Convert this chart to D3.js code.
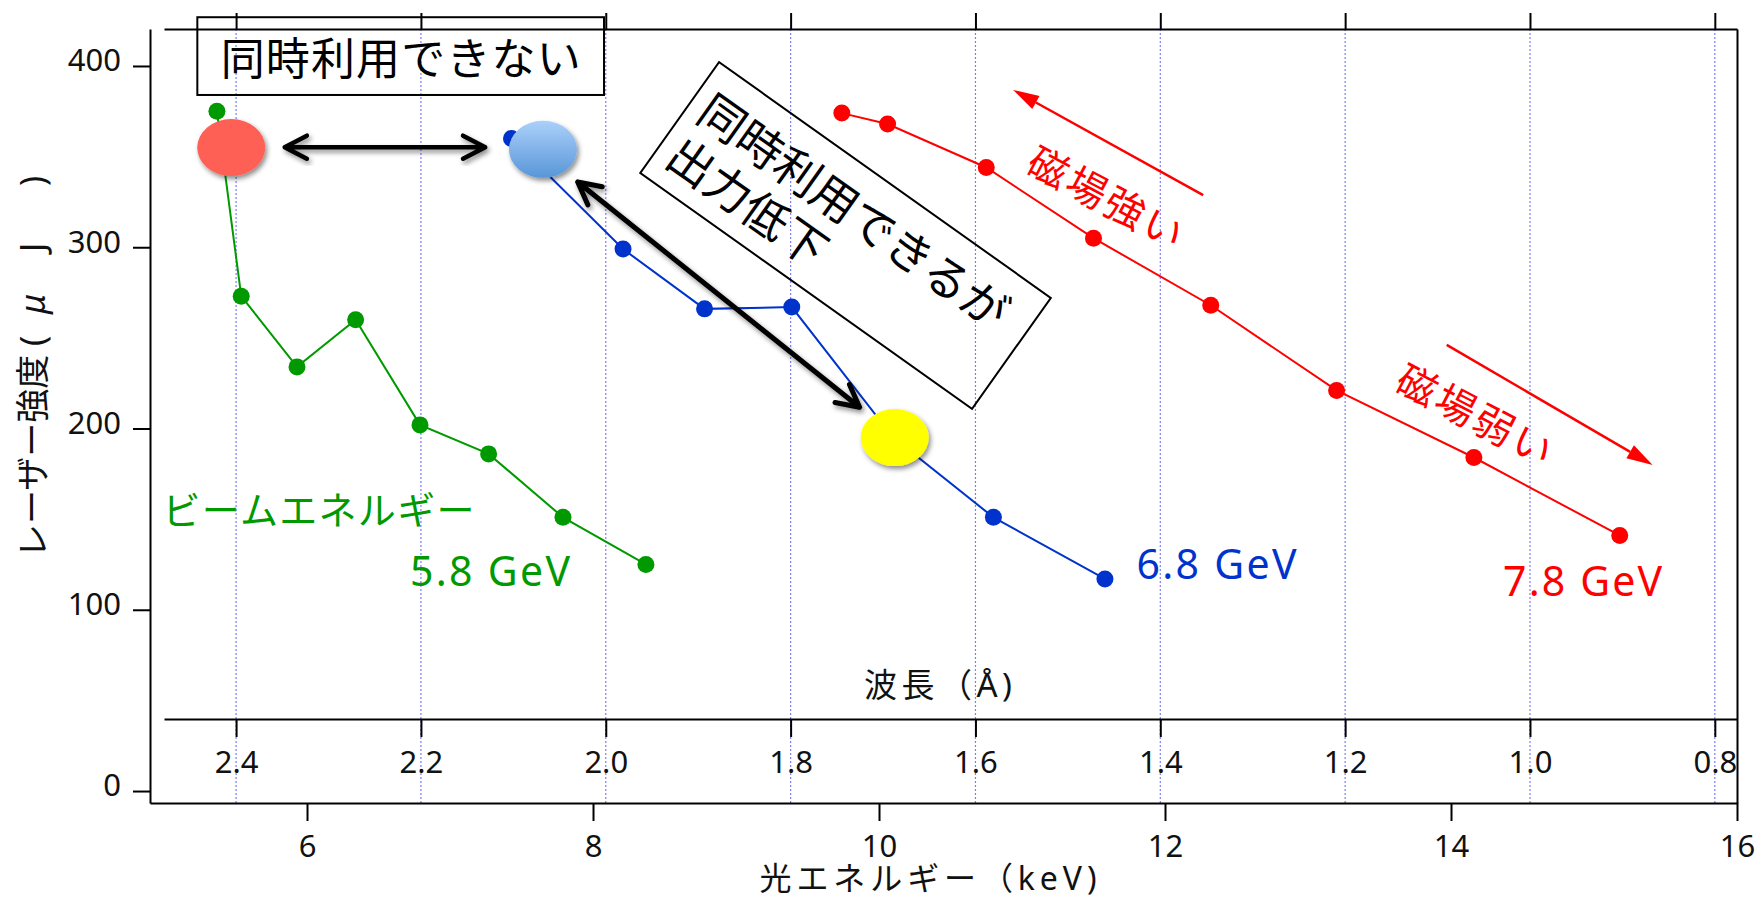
<!DOCTYPE html>
<html>
<head>
<meta charset="utf-8">
<script src="https://cdn.jsdelivr.net/npm/d3@7"></script>
<style>
  body { margin: 0; background: #fff; }
  svg { display: block; font-family: "Noto Sans", "Noto Sans CJK JP", sans-serif; }
</style>
</head>
<body>
<div id="chart"></div>
<script>
// datos: energia del foton (keV) y energia del pulso laser (uJ)
var energy58 = [5.37, 5.54, 5.93, 6.34, 6.79, 7.27, 7.79, 8.37];
var power58 = [375, 273, 234, 260, 202, 186, 151, 125];
var energy68 = [7.43, 8.21, 8.78, 9.39, 10.10, 10.80, 11.58];
var power68 = [360, 299, 266, 267, 195, 151, 117];
var energy78 = [9.74, 10.06, 10.75, 11.50, 12.32, 13.20, 14.16, 15.18];
var power78 = [374, 368, 344, 305, 268, 221, 184, 141];

var seriesNames = ["5.8 GeV", "6.8 GeV", "7.8 GeV"];
var seriesColors = ["#009a00", "#0033cc", "#ff0000"];

// ticks
var energyTicks = [6, 8, 10, 12, 14, 16];
var powerTicks = [0, 100, 200, 300, 400];
var waveTicks = [2.4, 2.2, 2.0, 1.8, 1.6, 1.4, 1.2, 1.0, 0.8];

// puntos destacados (keV, uJ)
var highlightE = [5.47, 7.65, 10.11];
var highlightP = [355, 354, 195];
var highlightFill = ["#fe6055", "url(#blueGrad)", "#ffff00"];

var chartWidth = 1763;
var chartHeight = 898;

var svg = d3.select("#chart").append("svg")
  .attr("width", chartWidth)
  .attr("height", chartHeight);

var defs = svg.append("defs");
var shadow = defs.append("filter").attr("id", "shadow")
  .attr("x", "-30%").attr("y", "-30%").attr("width", "160%").attr("height", "160%");
shadow.append("feDropShadow").attr("dx", 2).attr("dy", 3).attr("stdDeviation", 2.5)
  .attr("flood-color", "#000").attr("flood-opacity", 0.45);
var grad = defs.append("linearGradient").attr("id", "blueGrad")
  .attr("x1", 0).attr("y1", 0).attr("x2", 0).attr("y2", 1);
grad.append("stop").attr("offset", "0%").attr("stop-color", "#abd0fa");
grad.append("stop").attr("offset", "100%").attr("stop-color", "#5896d8");

// escalas
var x = d3.scaleLinear().domain([4.902, 16]).range([150, 1737]);
var y = d3.scaleLinear().domain([-6.6, 420.4]).range([803, 29]);
var wl = d3.scaleLinear().domain([2.478, 0.776]).range([164, 1737]);

function styleAxis(g) {
  g.attr("font-size", null).attr("font-family", null);
  g.selectAll("path.domain").attr("stroke", "#000").attr("stroke-width", 2);
  g.selectAll(".tick line").attr("stroke", "#000").attr("stroke-width", 2);
  g.selectAll(".tick text").attr("fill", "#111").style("font-size", "31px");
}

// grilla punteada (longitud de onda)
svg.append("g").selectAll("line").data(waveTicks).enter().append("line")
  .attr("x1", function (d) { return wl(d); })
  .attr("x2", function (d) { return wl(d); })
  .attr("y1", 29).attr("y2", 803)
  .attr("stroke", "#7d7dff").attr("stroke-width", 1.2).attr("stroke-dasharray", "2,2");

// eje x energia
svg.append("g").attr("transform", "translate(0,803)")
  .call(d3.axisBottom(x).tickValues(energyTicks).tickSize(18).tickSizeOuter(0).tickFormat(d3.format("d")))
  .call(styleAxis)
  .call(function (g) { g.selectAll(".tick text").attr("y", 43).attr("dy", "0.35em"); });

// eje longitud de onda
svg.append("g").attr("transform", "translate(0,719)")
  .call(d3.axisBottom(wl).tickValues(waveTicks).tickSize(18).tickSizeOuter(0).tickFormat(d3.format(".1f")))
  .call(styleAxis)
  .call(function (g) { g.selectAll(".tick text").attr("y", 43).attr("dy", "0.35em"); });

// eje superior
svg.append("g").attr("transform", "translate(0,29)")
  .call(d3.axisTop(wl).tickValues(waveTicks).tickSize(16).tickSizeOuter(0).tickFormat(""))
  .call(styleAxis);

// eje y
svg.append("g").attr("transform", "translate(150,0)")
  .call(d3.axisLeft(y).tickValues(powerTicks).tickSize(17).tickSizeOuter(0))
  .call(styleAxis)
  .call(function (g) { g.selectAll(".tick text").attr("x", -29).attr("y", -6).attr("dy", "0.35em"); });

svg.append("g").attr("transform", "translate(1737,0)")
  .call(d3.axisRight(y).tickValues([]).tickSizeOuter(0))
  .call(styleAxis);

// titulos de ejes
svg.append("text")
  .attr("transform", "translate(32,558) rotate(-90)")
  .attr("dominant-baseline", "central")
  .attr("font-size", 34).attr("fill", "#111")
  .text("レーザー強度");
var yUnit = svg.append("text")
  .attr("transform", "translate(32,0) rotate(-90)")
  .attr("dominant-baseline", "central")
  .attr("font-size", 34).attr("fill", "#111");
yUnit.append("tspan").attr("x", -346).text("(");
yUnit.append("tspan").attr("x", -314).attr("font-style", "italic").text("μ");
yUnit.append("tspan").attr("x", -252).text("J");
yUnit.append("tspan").attr("x", -186).text(")");

svg.append("text").attr("x", 938).attr("y", 684)
  .attr("text-anchor", "middle").attr("dominant-baseline", "central")
  .attr("font-size", 33).attr("fill", "#111")
  .attr("textLength", 148).attr("lengthAdjust", "spacing")
  .text("波長（Å)");

svg.append("text").attr("x", 928).attr("y", 877)
  .attr("text-anchor", "middle").attr("dominant-baseline", "central")
  .attr("font-size", 32).attr("fill", "#111")
  .attr("textLength", 337).attr("lengthAdjust", "spacing")
  .text("光エネルギー（keV)");

// series
var allSeries = [
  d3.zip(energy58, power58),
  d3.zip(energy68, power68),
  d3.zip(energy78, power78)
];
var line = d3.line()
  .x(function (d) { return x(d[0]); })
  .y(function (d) { return y(d[1]); });

allSeries.forEach(function (pts, i) {
  var g = svg.append("g");
  g.append("path").attr("d", line(pts))
    .attr("fill", "none").attr("stroke", seriesColors[i]).attr("stroke-width", 2);
  g.selectAll("circle").data(pts).enter().append("circle")
    .attr("cx", function (d) { return x(d[0]); })
    .attr("cy", function (d) { return y(d[1]); })
    .attr("r", 8.5)
    .attr("fill", seriesColors[i]);
});

// etiquetas de series (keV, uJ del centro)
var labelE = [7.28, 12.36, 14.92];
var labelP = [122, 126, 116.5];
var labelLen = [160, 160, 159];
seriesNames.forEach(function (name, i) {
  svg.append("text")
    .attr("x", x(labelE[i])).attr("y", y(labelP[i]))
    .attr("text-anchor", "middle").attr("dominant-baseline", "central")
    .attr("font-size", 41).attr("fill", seriesColors[i])
    .attr("textLength", labelLen[i]).attr("lengthAdjust", "spacing")
    .text(name);
});
svg.append("text")
  .attr("x", x(6.08)).attr("y", y(155.6))
  .attr("text-anchor", "middle").attr("dominant-baseline", "central")
  .attr("font-size", 38).attr("fill", seriesColors[0])
  .attr("textLength", 312).attr("lengthAdjust", "spacing")
  .text("ビームエネルギー");

// elipses destacadas
svg.append("g").selectAll("ellipse").data(highlightE).enter().append("ellipse")
  .attr("cx", function (d) { return x(d); })
  .attr("cy", function (d, i) { return y(highlightP[i]); })
  .attr("rx", 34).attr("ry", 28.5)
  .attr("fill", function (d, i) { return highlightFill[i]; })
  .attr("filter", "url(#shadow)");

// flechas negras dobles
function doubleArrow(p0, p1, w) {
  var x0 = x(p0[0]), y0 = y(p0[1]), x1 = x(p1[0]), y1 = y(p1[1]);
  var a = Math.atan2(y1 - y0, x1 - x0);
  var L = 25, sp = 0.48;
  function head(tx, ty, ang) {
    return "M" + (tx - L * Math.cos(ang - sp)) + "," + (ty - L * Math.sin(ang - sp)) +
      "L" + tx + "," + ty +
      "L" + (tx - L * Math.cos(ang + sp)) + "," + (ty - L * Math.sin(ang + sp));
  }
  var d = "M" + x0 + "," + y0 + "L" + x1 + "," + y1 + head(x1, y1, a) + head(x0, y0, a + Math.PI);
  svg.append("path").attr("d", d)
    .attr("fill", "none").attr("stroke", "#000").attr("stroke-width", w)
    .attr("stroke-linecap", "round").attr("stroke-linejoin", "round")
    .attr("filter", "url(#shadow)");
}
doubleArrow([5.844, 355.2], [7.246, 355.2], 4.5);
doubleArrow([7.893, 336.0], [9.864, 211.7], 5);

// flechas rojas
function redArrow(p0, p1) {
  var x0 = x(p0[0]), y0 = y(p0[1]), x1 = x(p1[0]), y1 = y(p1[1]);
  var a = Math.atan2(y1 - y0, x1 - x0);
  var L = 26, hw = 7.5;
  var bx = x1 - L * Math.cos(a), by = y1 - L * Math.sin(a);
  svg.append("line").attr("x1", x0).attr("y1", y0).attr("x2", bx).attr("y2", by)
    .attr("stroke", "#ff0000").attr("stroke-width", 2.5);
  svg.append("path")
    .attr("d", "M" + x1 + "," + y1 +
      "L" + (bx + hw * Math.sin(a)) + "," + (by - hw * Math.cos(a)) +
      "L" + (bx - hw * Math.sin(a)) + "," + (by + hw * Math.cos(a)) + "Z")
    .attr("fill", "#ff0000");
}
redArrow([12.267, 328.8], [10.938, 386.8]);
redArrow([13.970, 246.1], [15.410, 179.9]);

function rotText(txt, e, p, ang, len) {
  svg.append("text")
    .attr("transform", "translate(" + x(e) + "," + y(p) + ") rotate(" + ang + ")")
    .attr("text-anchor", "middle").attr("dominant-baseline", "central")
    .attr("font-size", 40).attr("fill", "#ff0000")
    .attr("textLength", len).attr("lengthAdjust", "spacing")
    .text(txt);
}
rotText("磁場強い", 11.59, 327.7, 28, 170);
rotText("磁場弱い", 14.17, 207.8, 27.5, 170);

// caja "同時利用できない"
svg.append("rect")
  .attr("x", x(5.233)).attr("y", y(426.9))
  .attr("width", x(8.077) - x(5.233)).attr("height", y(384.0) - y(426.9))
  .attr("fill", "none").attr("stroke", "#000").attr("stroke-width", 2);
svg.append("text")
  .attr("x", x(6.655)).attr("y", y(404.4))
  .attr("text-anchor", "middle").attr("dominant-baseline", "central")
  .attr("font-size", 44).attr("fill", "#000")
  .attr("textLength", 360).attr("lengthAdjust", "spacing")
  .text("同時利用できない");

// caja rotada
var box = svg.append("g")
  .attr("transform", "translate(" + x(9.766) + "," + y(306.5) + ") rotate(35.4)");
box.append("rect").attr("x", -203.5).attr("y", -68).attr("width", 407).attr("height", 136)
  .attr("fill", "none").attr("stroke", "#000").attr("stroke-width", 2);
box.append("text").attr("x", -191).attr("y", -7)
  .attr("font-size", 46).attr("fill", "#000")
  .text("同時利用できるが");
box.append("text").attr("x", -191).attr("y", 47)
  .attr("font-size", 46).attr("fill", "#000")
  .text("出力低下");
</script>
</body>
</html>
